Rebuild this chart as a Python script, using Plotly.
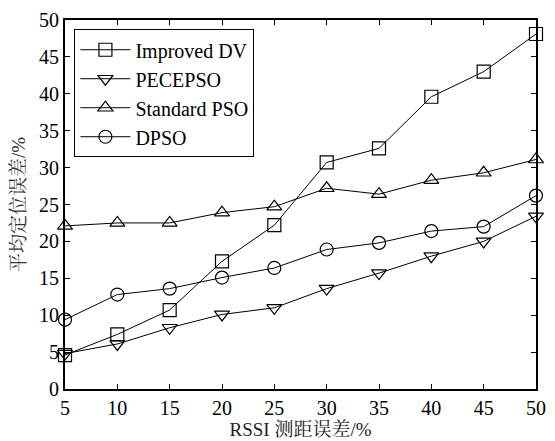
import plotly.graph_objects as go

x_vals = [5, 10, 15, 20, 25, 30, 35, 40, 45, 50]
improved_dv = [4.6, 7.4, 10.7, 17.3, 22.2, 30.7, 32.6, 39.6, 43.0, 48.1]
pecepso = [4.8, 6.1, 8.3, 10.1, 11.0, 13.6, 15.7, 18.0, 20.0, 23.4]
standard_pso = [22.1, 22.5, 22.5, 23.9, 24.7, 27.2, 26.4, 28.3, 29.3, 31.1]
dpso = [9.4, 12.8, 13.6, 15.1, 16.4, 18.9, 19.8, 21.4, 22.0, 26.2]

series = [
    ("Improved DV", improved_dv, "square-open"),
    ("PECEPSO", pecepso, "triangle-down-open"),
    ("Standard PSO", standard_pso, "triangle-up-open"),
    ("DPSO", dpso, "circle-open"),
]

font_family = "Liberation Serif, Times New Roman, Noto Serif CJK SC, Noto Sans CJK SC, serif"

fig = go.Figure()
for name, ys, sym in series:
    fig.add_trace(go.Scatter(
        x=x_vals, y=ys, name=name, mode="lines+markers",
        line=dict(color="black", width=1),
        marker=dict(symbol=sym, size=13, color="black", line=dict(width=1.2, color="black")),
        cliponaxis=False,
    ))

axis_common = dict(
    showline=True, linecolor="black", linewidth=2, mirror="ticks",
    ticks="inside", ticklen=5, tickwidth=1, tickcolor="black",
    showgrid=False, zeroline=False,
    tickfont=dict(family=font_family, size=20, color="black"),
)

fig.update_layout(
    width=555, height=441,
    margin=dict(l=65, r=9, t=13, b=51),
    paper_bgcolor="white", plot_bgcolor="white",
    font=dict(family=font_family, color="black"),
    xaxis=dict(range=[5, 50], tickvals=x_vals, ticktext=[str(v) for v in x_vals],
               title=dict(text="RSSI 测距误差/%", font=dict(family=font_family, size=19, color="#222222"), standoff=0),
               **axis_common),
    yaxis=dict(range=[0, 50], tickvals=list(range(0, 51, 5)),
               title=dict(text="平均定位误差/%", font=dict(family=font_family, size=19, color="#333333"), standoff=8),
               **axis_common),
    legend=dict(x=0.02, y=0.975, xanchor="left", yanchor="top",
                bgcolor="white", bordercolor="black", borderwidth=1,
                font=dict(family=font_family, size=20, color="black"),
                tracegroupgap=0, itemwidth=50),
    showlegend=True,
)

fig.write_html("out.html")
